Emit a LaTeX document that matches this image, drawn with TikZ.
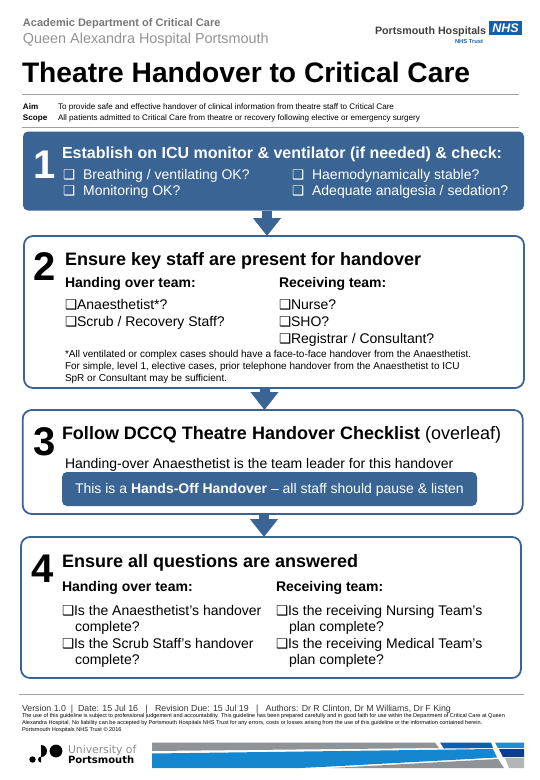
\documentclass[tikz,border=0pt]{standalone}
\usepackage{fontspec}
\setmainfont{Liberation Sans}
\newfontfamily\symfont{DejaVu Sans}
\usetikzlibrary{positioning}
\usetikzlibrary{arrows.meta}
\definecolor{stepblue}{HTML}{3A6494}
\definecolor{rulegrey}{HTML}{A0A0A0}
\definecolor{headgrey}{HTML}{777777}
\definecolor{nhsblue}{HTML}{1560A8}
\definecolor{bannerblue}{HTML}{1587CF}
\definecolor{bannerdark}{HTML}{0F5FAE}
\definecolor{bannerlight}{HTML}{1D8DD6}
\definecolor{bannernavy}{HTML}{0A3D8C}
\definecolor{bannergrey}{HTML}{909395}
\definecolor{bannerpale}{HTML}{B3B5B7}
\newcommand{\chk}{{\symfont\fontsize{13.5}{13.5}\selectfont ❑}}
\newcommand{\fs}[1]{\fontsize{#1}{#1}\selectfont}
\tikzset{
  txt/.style={anchor=base west, inner sep=0, outer sep=0},
  steptitle/.style={txt, font=\fs{18}\bfseries},
  stepnum/.style={txt, font=\fs{40}\bfseries},
  teamhead/.style={txt, font=\fs{14}\bfseries},
  item/.style={txt, font=\fs{14}},
  noteline/.style={txt, font=\fs{10}},
  wee/.style={txt, font=\fs{5.55}},
  stepbox/.style={draw=stepblue, line width=1.8pt, rounded corners=9pt, fill=white, inner sep=0, outer sep=0},
  stepbar/.style={stepbox, rounded corners=5pt, fill=stepblue, draw=none},
  steparrow/.style={stepblue, line width=10pt, -{Triangle[length=18pt,width=27pt]}},
}
\begin{document}
\begin{tikzpicture}[x=1pt, y=-1pt]
\useasboundingbox (0,0) rectangle (540,780);
% -- header --
\node[txt, font=\fs{11}\bfseries, text=headgrey] (dept) at (23,26) {Academic Department of Critical Care};
\node[txt, font=\fs{14.4}, text=headgrey!80] (hospital) at (23,43) {Queen Alexandra Hospital Portsmouth};
\node[txt, font=\fs{10.7}\bfseries, text=black!75] (trust) at (375,34) {Portsmouth Hospitals};
\node[txt, fill=nhsblue, text=white, font=\fs{12.5}\bfseries\itshape, minimum width=33pt, minimum height=14pt, anchor=west, align=center] (nhs) at (489,28) {NHS};
\node[txt, font=\fs{5.8}\bfseries, text=nhsblue] (nhstrust) at (455,43) {NHS Trust};
\node[txt, font=\fs{28.2}\bfseries] (title) at (22,82) {Theatre Handover to Critical Care};
\draw[rulegrey, line width=1pt] (22,94) to (519,94);
\node[txt, font=\fs{8.1}\bfseries] (aim) at (23,109) {Aim};
\node[txt, font=\fs{8.1}] (aimtext) at (58,109) {To provide safe and effective handover of clinical information from theatre staff  to Critical Care};
\node[txt, font=\fs{8.1}\bfseries] (scope) at (23,120) {Scope};
\node[txt, font=\fs{8.1}] (scopetext) at (58,120) {All patients admitted to Critical Care from theatre or recovery following elective or emergency surgery};
\draw[rulegrey, line width=1pt] (22,127) to (519,127);
% -- the four boxes --
\node[stepbar, minimum width=501pt, minimum height=79pt] (boxone) at (273.5,171) {};
\node[stepbox, minimum width=500pt, minimum height=152pt] (boxtwo) at (274,312) {};
\node[stepbox, minimum width=500pt, minimum height=104pt] (boxthree) at (272.7,462) {};
\node[stepbox, minimum width=500pt, minimum height=141pt] (boxfour) at (271,607.5) {};
% -- arrows between boxes --
\draw[steparrow] ([xshift=-6.5]boxone.south) to ([xshift=-7]boxtwo.north);
\draw[steparrow] ([xshift=-9.5]boxtwo.south) to ([xshift=-8.2]boxthree.north);
\draw[steparrow] ([xshift=-8.7]boxthree.south) to ([xshift=-7]boxfour.north);
% -- step 1 --
\node[stepnum, text=white] (numone) at (33,178) {1};
\node[steptitle, text=white, font=\fs{16}\bfseries] (titleone) at (62,158) {Establish on ICU monitor \& ventilator (if needed) \& check:};
\node[item, text=white] (breathing) at (63,179) {\chk\hspace{8pt}Breathing / ventilating OK?};
\node[item, text=white] (monitoring) at (63,195) {\chk\hspace{8pt}Monitoring OK?};
\node[item, text=white] (haemo) at (292,179) {\chk\hspace{8pt}Haemodynamically stable?};
\node[item, text=white] (analgesia) at (292,195) {\chk\hspace{8pt}Adequate analgesia / sedation?};
% -- step 2 --
\node[stepnum] (numtwo) at (33,280) {2};
\node[steptitle] (titletwo) at (65,265) {Ensure key staff are present for handover};
\node[teamhead] (overtwo) at (65,287) {Handing over team:};
\node[teamhead] (recvtwo) at (279,287) {Receiving team:};
\node[item] (anaes) at (65,309.5) {\chk Anaesthetist*?};
\node[item] (scrub) at (65,326) {\chk Scrub / Recovery Staff?};
\node[item] (nurse) at (279,309.5) {\chk Nurse?};
\node[item] (sho) at (279,326) {\chk SHO?};
\node[item] (registrar) at (279,343) {\chk Registrar / Consultant?};
\node[noteline] (noteone) at (65,357) {*All ventilated or complex cases should have a face-to-face handover from the Anaesthetist.};
\node[noteline] (notetwo) at (65,369) {For simple, level 1, elective cases, prior telephone handover from the Anaesthetist to ICU};
\node[noteline] (notethree) at (65,381) {SpR or Consultant may be sufficient.};
% -- step 3 --
\node[stepnum] (numthree) at (33,455) {3};
\node[steptitle] (titlethree) at (62,439) {Follow DCCQ Theatre Handover Checklist \mdseries(overleaf)};
\node[item] (leader) at (65,468) {Handing-over Anaesthetist is the team leader for this handover};
\node[stepbar, minimum width=415pt, minimum height=34pt] (handsbar) at (269.5,489) {};
\node[item, text=white] (handsoff) at (75,493) {This is a \textbf{Hands-Off Handover} – all staff should pause \& listen};
% -- step 4 --
\node[stepnum] (numfour) at (31,582) {4};
\node[steptitle] (titlefour) at (62,567) {Ensure all questions are answered};
\node[teamhead] (overfour) at (62,591) {Handing over team:};
\node[teamhead] (recvfour) at (276,591) {Receiving team:};
\node[item] (qone) at (62,615) {\chk Is the Anaesthetist’s handover};
\node[item] (qonee) at (75,631) {complete?};
\node[item] (qtwo) at (62,648) {\chk Is the Scrub Staff’s handover};
\node[item] (qtwoo) at (75,664) {complete?};
\node[item] (qthree) at (276,615) {\chk Is the receiving Nursing Team’s};
\node[item] (qthreee) at (289,631) {plan complete?};
\node[item] (qfour) at (276,648) {\chk Is the receiving Medical Team’s};
\node[item] (qfourr) at (289,664) {plan complete?};
% -- footer --
\draw[rulegrey, line width=1pt] (19,694) to (524,694);
\node[txt, font=\fs{8.8}, text=black!80] (version) at (22,711) {Version 1.0 ~|~ Date: 15 Jul 16 ~ | ~ Revision Due: 15 Jul 19 ~ | ~ Authors: Dr R Clinton, Dr M Williams, Dr  F King};
\node[wee] (weeone) at (22,717) {The use of this guideline is subject to professional judgement and accountability.  This guideline has been prepared carefully and in good faith for use within the Department of Critical Care at Queen};
\node[wee] (weetwo) at (22,724) {Alexandra Hospital.  No liability can be accepted by Portsmouth Hospitals NHS Trust for any errors, costs or losses arising from the use of this guideline or the information contained herein.};
\node[wee] (weethree) at (22,731) {Portsmouth Hospitals NHS Trust  © 2016};
% -- university logo --
\fill (56,751) circle (6.4);
\fill (41,745) arc (-90:90:6) -- cycle;
\fill (32.5,759.5) circle (3.2);
\fill (41,756.5) arc (-90:-270:3) -- cycle;
\node[txt, font=\symfont\fs{10.8}, text=black!45] (uni) at (68,753) {University of};
\node[txt, font=\symfont\fs{10}\bfseries] (portsmouth) at (68,763) {Portsmouth};
% -- banner --
\fill[bannergrey] (152,742.5) -- (435,742.5) -- (439,748) -- (152,751) -- cycle;
\fill[bannerdark] (440,742.5) -- (491,742.5) -- (493,748) -- (444,748.5) -- cycle;
\fill[bannerlight] (495,742.5) -- (524,742.5) -- (524,748) -- (498,748) -- cycle;
\fill[bannernavy] (499,749) -- (524,749) -- (524,757) -- (503,757) -- cycle;
\fill[bannerpale] (505,758) -- (524,758) -- (524,768) -- (509,768) -- cycle;
\fill[bannergrey] (331,768) -- (498,759) -- (504,768) -- cycle;
\fill[bannerblue] (152,753.5) -- (493,749) -- (497,757.5) -- (331,766.5) -- (300,768) -- (152,768) -- cycle;
\end{tikzpicture}
\end{document}
